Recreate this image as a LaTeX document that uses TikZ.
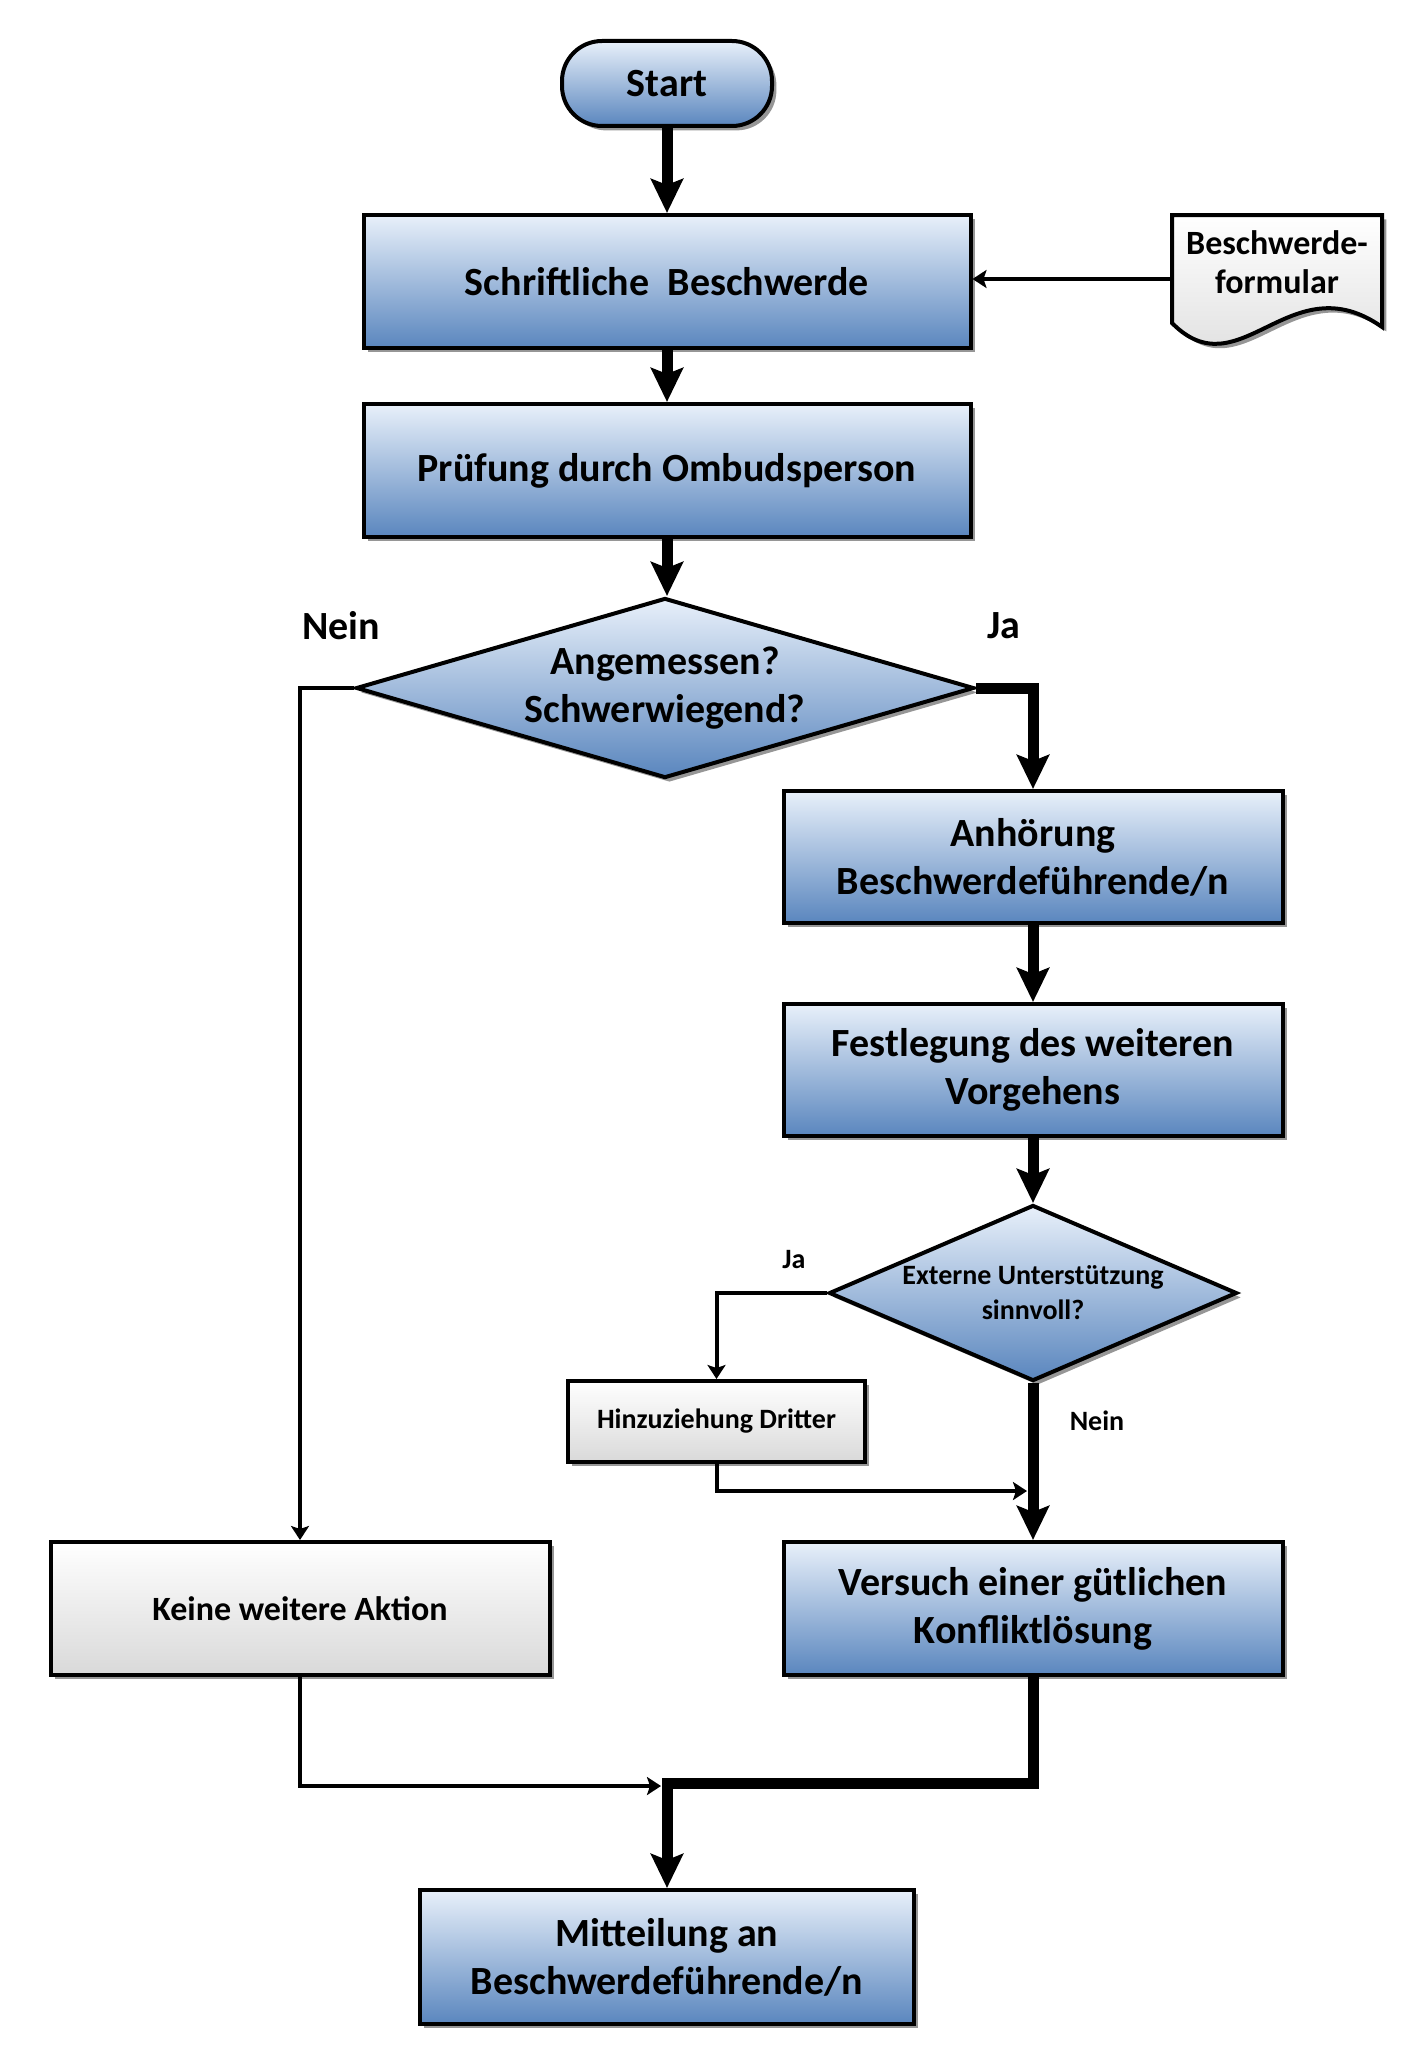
\documentclass[tikz,border=0pt]{standalone}
\usepackage{fontspec}
\setmainfont{Carlito}
\usetikzlibrary{shapes.geometric,shadows,arrows.meta,calc}
\definecolor{bluetop}{HTML}{E8F0FA}
\definecolor{bluebot}{HTML}{5A86BE}
\definecolor{graybot}{HTML}{D9D9D9}
\tikzset{
  shad/.style={drop shadow={shadow xshift=2.2pt, shadow yshift=-2.2pt, fill=black!75, opacity=.55}},
  basebox/.style={draw=black, line width=2pt, align=center, inner sep=2pt, shad},
  bluebox/.style={basebox, rectangle, top color=bluetop, bottom color=bluebot,
     font=\fontsize{20}{24}\selectfont\bfseries},
  graybox/.style={basebox, rectangle, top color=white, bottom color=graybot},
  bluediam/.style={basebox, diamond, inner sep=0pt, top color=bluetop, bottom color=bluebot},
  conn/.style={line width=2pt, -{Stealth[length=7pt,width=9pt,inset=1.5pt]}},
  bigconn/.style={line width=5.5pt, -{Stealth[length=17pt,width=16pt,inset=3pt]}},
  lbl/.style={font=\fontsize{20}{24}\selectfont\bfseries, inner sep=0pt},
  smalllbl/.style={font=\fontsize{14}{17}\selectfont\bfseries, inner sep=0pt},
}
\begin{document}
\begin{tikzpicture}[x=0.5pt,y=-0.5pt]
\useasboundingbox (0,0) rectangle (1420,2055);
% nodes
\node[bluebox, rounded corners=20pt, minimum width=105pt, minimum height=42.5pt] (start) at (667,83.5) {Start};
\node[bluebox, minimum width=303.5pt, minimum height=66.5pt] (sb) at (667,281.5) {Schriftliche\ \ Beschwerde};
\node[bluebox, minimum width=303.5pt, minimum height=66.5pt] (pr) at (667,470.5) {Prüfung durch Ombudsperson};
\node[bluediam, minimum width=309pt, minimum height=90pt, shape aspect=3.43,
      font=\fontsize{20}{24}\selectfont\bfseries] (d1) at (665,688) {Angemessen?\\Schwerwiegend?};
\node[bluebox, minimum width=249.5pt, minimum height=66pt] (anh) at (1033,857) {Anhörung\\Beschwerdeführende/n};
\node[bluebox, minimum width=249.5pt, minimum height=66pt] (fest) at (1033,1070) {Festlegung des weiteren\\Vorgehens};
\node[bluediam, minimum width=204pt, minimum height=88pt, shape aspect=2.32,
      font=\fontsize{14}{17.5}\selectfont\bfseries] (d2) at (1033,1293) {Externe Unterstützung\\sinnvoll?};
\node[graybox, minimum width=148.5pt, minimum height=40.5pt,
      font=\fontsize{14}{17}\selectfont\bfseries] (hinzu) at (716.5,1421.5) {Hinzuziehung Dritter};
\node[graybox, minimum width=249.5pt, minimum height=66.5pt,
      font=\fontsize{17}{20}\selectfont\bfseries] (keine) at (300,1608.5) {Keine weitere Aktion};
\node[bluebox, minimum width=249.5pt, minimum height=66.5pt] (vers) at (1033,1608.5) {Versuch einer gütlichen\\Konfliktlösung};
\node[bluebox, minimum width=247pt, minimum height=67pt] (mitt) at (667,1957) {Mitteilung an\\Beschwerdeführende/n};
% document shape
\path[shad, draw=black, line width=2pt, top color=white, bottom color=graybot]
  (1172,215) -- (1382,215) -- (1382,327)
  .. controls (1290,262) and (1240,392) .. (1172,323) -- cycle;
\node[inner sep=0pt, minimum width=105pt, minimum height=64pt] (doc) at (1277,279) {};
\node[inner sep=0pt, align=center, font=\fontsize{17}{19.5}\selectfont\bfseries]
      (doctext) at (1277,262) {Beschwerde-\\formular};
% labels
\node[lbl] (lnein) at (341,626) {Nein};
\node[lbl] (lja) at (1004,626) {Ja};
\node[smalllbl] (lja2) at (794,1260) {Ja};
\node[smalllbl] (lnein2) at (1097,1421) {Nein};
% junction coordinates
\coordinate (j2) at (1027,1491);
\coordinate (j3) at (661,1786);
\coordinate (m) at (667,1783);
% connectors
\draw[bigconn] (start) -- (sb);
\draw[bigconn] (sb) -- (pr);
\draw[bigconn] (pr) -- (pr |- d1.north);
\draw[conn] (doc.west) -- (doc.west -| sb.east);
\draw[conn] (d1.west) -| (keine.north);
\draw[bigconn] (d1.east) -| (anh.north);
\draw[bigconn] (anh) -- (fest);
\draw[bigconn] (fest) -- (d2);
\draw[conn] (d2.west) -| (hinzu.north);
\draw[conn] (hinzu.south) |- (j2);
\draw[bigconn] (d2.south) -- (vers.north);
\draw[conn] (keine.south) |- (j3);
\draw[bigconn] (vers.south) |- (m) -- (mitt.north);
\end{tikzpicture}
\end{document}
